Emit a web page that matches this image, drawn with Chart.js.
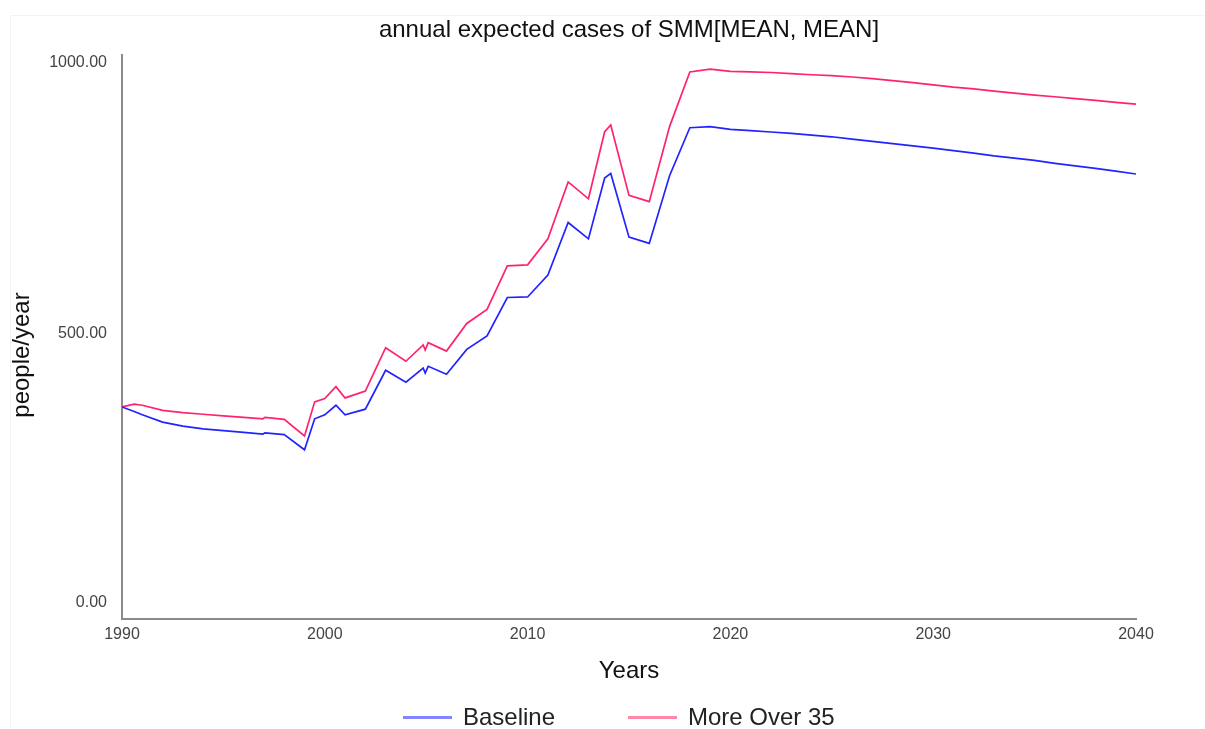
<!DOCTYPE html>
<html>
<head>
<meta charset="utf-8">
<script src="https://cdn.jsdelivr.net/npm/chart.js@4.4.1/dist/chart.umd.min.js"></script>
<style>
  html, body { margin: 0; padding: 0; background: #fff; }
  #wrap { position: relative; width: 1205px; height: 729px; overflow: hidden; font-family: 'Liberation Sans', Arial, sans-serif; }
  #frame { position: absolute; left: 10px; top: 15px; width: 1195px; height: 714px; border-top: 1px solid #f3f3f3; border-left: 1px solid #f3f3f3; box-sizing: border-box; }
  #c { position: absolute; left: 0; top: 0; }
  .leg { position: absolute; top: 703px; height: 28px; display: flex; align-items: center; font-size: 24px; color: #222; }
  .leg span.sw { display: inline-block; width: 49px; height: 3px; margin-right: 11px; }
</style>
</head>
<body>
<div id="wrap">
  <div id="frame"></div>
  <canvas id="c" width="1205" height="729"></canvas>
  <div class="leg" style="left:403px"><span class="sw" style="background:#8585ff"></span>Baseline</div>
  <div class="leg" style="left:628px"><span class="sw" style="background:#ff88a8"></span>More Over 35</div>
</div>
<script>
// ---- data ----
const years = [1990, 1990.6, 1991, 1992, 1993, 1994, 1995, 1996, 1996.95, 1997.05,
  1998, 1999, 1999.5, 2000, 2000.55, 2001, 2002, 2003, 2004, 2004.85,
  2004.95, 2005.1, 2006, 2007, 2008, 2009, 2010, 2011, 2012, 2013,
  2013.8, 2014.1, 2015, 2016, 2017, 2018, 2019, 2020, 2021, 2022,
  2023, 2024, 2025, 2026, 2027, 2028, 2029, 2030, 2031, 2032,
  2033, 2034, 2035, 2036, 2037, 2038, 2039, 2040];
const baseline = [376, 368, 362, 349, 342, 337, 334, 331, 328, 330,
  327, 300, 355, 362, 379, 362, 372, 441, 420, 445,
  436, 448, 434, 478, 502, 570, 571, 610, 703, 674,
  782, 790, 677, 666, 786, 871, 873, 868, 866, 863.5,
  861, 858, 855, 851, 847, 843, 839, 835, 830.5, 826,
  821, 817, 813, 808, 803.5, 799, 794, 789];
const moreOver35 = [376, 381, 379, 370, 366, 363, 360, 357.5, 355, 357.5,
  354, 324.5, 385, 391, 412, 392, 404, 481, 457, 486,
  477, 490, 475, 524, 549, 626, 628, 674, 775, 745,
  864, 876, 751, 740, 873, 970, 975, 971, 970, 969,
  967, 965, 963.5, 961, 958, 954.5, 951, 947, 943, 940,
  936, 932.5, 929, 926, 922.5, 919.5, 916, 913];
const xTickValues = [1990, 2000, 2010, 2020, 2030, 2040];
const yTickValues = [0, 500, 1000];
const seriesNames = ['Baseline', 'More Over 35'];
const titleText = 'annual expected cases of SMM[MEAN, MEAN]';
const yAxisTitle = 'people/year';
const xAxisTitle = 'Years';

const FONT = "'Liberation Sans', Arial, sans-serif";
const toPts = arr => years.map((x, i) => ({ x: x, y: arr[i] }));

// y tick labels kept inside the axis span, plus the y-axis title
const yLabelPlugin = {
  id: 'yLabels',
  afterDraw(chart) {
    const s = chart.scales.y;
    const ctx = chart.ctx;
    ctx.save();
    ctx.font = '16px ' + FONT;
    ctx.fillStyle = '#444';
    ctx.textAlign = 'right';
    ctx.textBaseline = 'middle';
    yTickValues.forEach(v => {
      const py = s.getPixelForValue(v);
      const y = Math.min(Math.max(py - 3, s.top + 8), s.bottom - 16);
      ctx.fillText(v.toFixed(2), s.right - 15, y);
    });
    ctx.translate(22, (s.top + s.bottom) / 2 + 18);
    ctx.rotate(-Math.PI / 2);
    ctx.font = '24px ' + FONT;
    ctx.fillStyle = '#111';
    ctx.textAlign = 'center';
    ctx.fillText(yAxisTitle, 0, 0);
    ctx.restore();
  }
};

new Chart(document.getElementById('c'), {
  type: 'line',
  data: {
    datasets: [
      { label: seriesNames[0], data: toPts(baseline), borderColor: '#2323ff', borderWidth: 1.7, pointRadius: 0, tension: 0, fill: false },
      { label: seriesNames[1], data: toPts(moreOver35), borderColor: '#ff2272', borderWidth: 1.7, pointRadius: 0, tension: 0, fill: false }
    ]
  },
  options: {
    responsive: false,
    animation: false,
    layout: { padding: { left: 0, right: 69, top: 0, bottom: 40 } },
    plugins: {
      legend: { display: false },
      tooltip: { enabled: false },
      title: {
        display: true,
        text: titleText,
        fullSize: false,
        color: '#111',
        font: { family: FONT, size: 24, weight: 'normal' },
        padding: { top: 16, bottom: 10.2 }
      }
    },
    scales: {
      x: {
        type: 'linear',
        min: 1990, max: 2040,
        afterBuildTicks: axis => { axis.ticks = xTickValues.map(v => ({ value: v })); },
        ticks: { callback: v => String(v), color: '#444', font: { family: FONT, size: 16 }, padding: 6, maxRotation: 0 },
        grid: { display: false, drawTicks: false },
        border: { display: true, color: '#8a8a8a', width: 2 },
        title: { display: true, text: xAxisTitle, color: '#111', font: { family: FONT, size: 24 }, padding: { top: 0, bottom: 3.6 } },
        afterFit: axis => { axis.height = 70; }
      },
      y: {
        type: 'linear',
        min: 0, max: 1000,
        afterBuildTicks: axis => { axis.ticks = yTickValues.map(v => ({ value: v })); },
        ticks: { display: false },
        grid: { display: false, drawTicks: false },
        border: { display: true, color: '#8a8a8a', width: 2 },
        title: { display: false },
        afterFit: axis => { axis.width = 122; }
      }
    }
  },
  plugins: [yLabelPlugin]
});
</script>
</body>
</html>
